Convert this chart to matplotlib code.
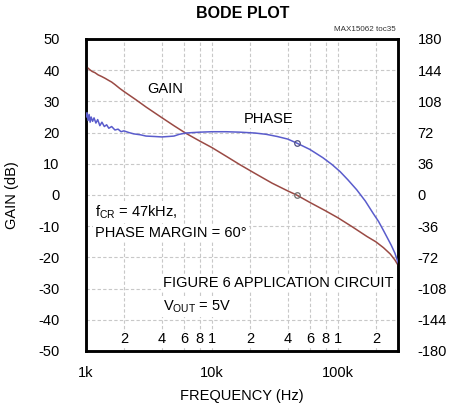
import matplotlib
matplotlib.use("Agg")
import matplotlib.pyplot as plt
from matplotlib.ticker import NullLocator

plt.rcParams['font.family'] = ['Liberation Sans', 'DejaVu Sans']
plt.rcParams['mathtext.fontset'] = 'custom'
plt.rcParams['mathtext.rm'] = 'Liberation Sans'
plt.rcParams['mathtext.it'] = 'Liberation Sans'
plt.rcParams['axes.unicode_minus'] = False

# ---- data ----
gain_freq = [1000, 1030, 1070, 1120, 1180, 1250, 1330, 1420, 1520, 1600, 1700, 1850,
             2000, 2500, 3000, 4000, 5000, 6200, 8000, 10000, 13000, 16700, 22000,
             30000, 40000, 47000, 60000, 80000, 100000, 130000, 170000, 200000,
             230000, 260000, 283000, 300000]
gain_db = [40.0, 40.8, 40.2, 39.6, 39.2, 38.5, 38.0, 37.4, 36.7, 36.2, 35.4, 34.2,
           33.2, 30.5, 28.2, 24.8, 22.2, 19.8, 17.3, 15.2, 12.4, 9.7, 6.9,
           3.8, 1.3, 0.0, -2.4, -5.1, -7.3, -10.2, -13.3, -15.0,
           -16.9, -18.9, -20.8, -22.5]

phase_freq = [1000, 1020, 1040, 1060, 1080, 1100, 1130, 1160, 1200, 1240, 1290, 1340,
              1400, 1460, 1520, 1600, 1700, 1800, 1900, 2000, 2200, 2400, 2700, 3000,
              3500, 4000, 4500, 5000, 5500, 6200, 7000, 8000, 10000, 13000, 16700,
              22000, 27000, 33000, 40000, 47000, 60000, 76000, 90000, 104000, 120000,
              141000, 165000, 190000, 210000, 228000, 250000, 265000, 283000, 300000]
phase_deg = [90, 95, 86, 93, 84, 90, 85, 89, 83, 87, 80, 84,
             79, 81, 77, 79, 75, 76, 73, 74, 72, 70.5, 69.5, 68,
             67.5, 67, 67.5, 68, 70, 71.5, 72, 72.5, 73, 73, 72.5,
             71.5, 70, 67.5, 64.5, 60, 52.5, 43, 35, 27, 17.5,
             6, -7, -21, -30.5, -40, -51, -58, -67, -78]

cross_freq = 47000
cross_gain = 0.0
cross_phase = 60

gain_ticks = [50, 40, 30, 20, 10, 0, -10, -20, -30, -40, -50]
phase_ticks = [180, 144, 108, 72, 36, 0, -36, -72, -108, -144, -180]
major_freq = [1000, 10000, 100000]
major_labels = ['1k', '10k', '100k']
minor_freq = [2000, 4000, 6000, 8000, 10000, 20000, 40000, 60000, 80000, 100000, 200000]
minor_labels = ['2', '4', '6', '8', '1', '2', '4', '6', '8', '1', '2']
grid_freq = [2000, 4000, 6000, 8000, 10000, 20000, 40000, 60000, 80000, 100000, 200000]

GAIN_COLOR = '#9a4a44'
PHASE_COLOR = '#5a5ccc'
FS = 10.5

fig = plt.figure(figsize=(4.57, 4.18), dpi=100)
ax = fig.add_axes([0.188, 0.1603, 0.683, 0.7464])
ax2 = ax.twinx()

ax.set_xscale('log')
ax.set_xlim(1000, 300000)
ax.set_ylim(-50, 50)
ax2.set_ylim(-180, 180)

# grid
for f in grid_freq:
    ax.axvline(f, color='#c8c8c8', lw=0.8, ls=(0, (3, 2)), zorder=0)
for g in gain_ticks[1:-1]:
    ax.axhline(g, color='#c8c8c8', lw=0.8, ls=(0, (3, 2)), zorder=0)

ax.plot(gain_freq, gain_db, color=GAIN_COLOR, lw=1.1, zorder=3)
ax2.plot(phase_freq, phase_deg, color=PHASE_COLOR, lw=1.1, zorder=3)
ax.plot([cross_freq], [cross_gain], marker='o', ms=4, mfc='none', mec='#707070', mew=0.9, zorder=4)
ax2.plot([cross_freq], [cross_phase], marker='o', ms=4, mfc='none', mec='#505080', mew=0.9, zorder=4)

# ticks
ax.xaxis.set_minor_locator(NullLocator())
ax.set_xticks(major_freq)
ax.set_xticklabels(major_labels)
ax.tick_params(axis='x', length=0, pad=11, labelsize=FS)
ax.set_yticks(gain_ticks)
ax.tick_params(axis='y', length=0, pad=19, labelsize=FS)
ax2.set_yticks(phase_ticks)
ax2.tick_params(axis='y', length=0, pad=14, labelsize=FS)

for f, lab in zip(minor_freq, minor_labels):
    ax.text(f, -46.3, lab, ha='center', va='center', fontsize=FS, zorder=5,
            bbox=dict(facecolor='white', edgecolor='none', pad=0.5))

for a in (ax, ax2):
    for s in a.spines.values():
        s.set_linewidth(1.8)
        s.set_color('black')
ax2.patch.set_visible(False)

box = dict(facecolor='white', edgecolor='none', pad=1.5)
ax.text(4240, 34.0, 'GAIN', ha='center', va='center', fontsize=FS, bbox=box, zorder=5)
ax.text(27900, 24.4, 'PHASE', ha='center', va='center', fontsize=FS, bbox=box, zorder=5)
ax.text(1180, -5.4, r'f$_{\mathrm{CR}}$ = 47kHz,', ha='left', va='center', fontsize=FS, bbox=box, zorder=5)
ax.text(1180, -12.2, 'PHASE MARGIN = 60°', ha='left', va='center', fontsize=FS, bbox=box, zorder=5)
ax.text(4080, -28.2, 'FIGURE 6 APPLICATION CIRCUIT', ha='left', va='center', fontsize=FS, bbox=box, zorder=5)
ax.text(4080, -35.9, r'V$_{\mathrm{OUT}}$ = 5V', ha='left', va='center', fontsize=FS, bbox=box, zorder=5)

ax.set_xlabel('FREQUENCY (Hz)', fontsize=FS, labelpad=6)
fig.text(0.027, 0.533, 'GAIN (dB)', rotation=90, ha='center', va='center', fontsize=FS)
fig.text(0.53, 0.968, 'BODE PLOT', ha='center', va='center', fontsize=11.5, fontweight='bold')
fig.text(0.865, 0.922, 'MAX15062 toc35', ha='right', va='bottom', fontsize=5.8, color='#333333')

fig.savefig('out.png', dpi=100)
